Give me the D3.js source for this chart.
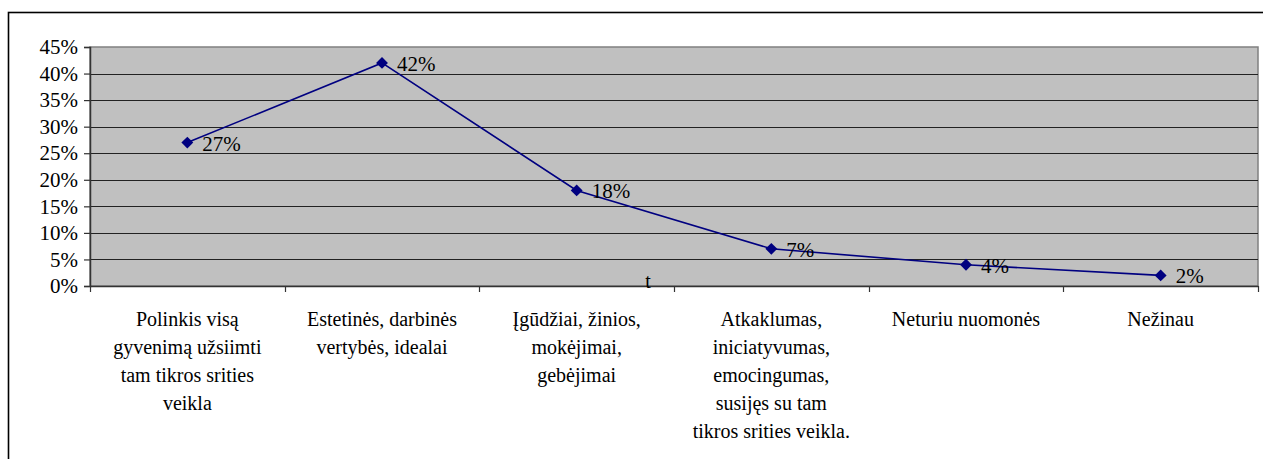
<!DOCTYPE html>
<html><head><meta charset="utf-8">
<script src="https://cdn.jsdelivr.net/npm/d3@7"></script>
<style>body{margin:0;background:#fff}svg{display:block}
svg text{font-family:"Liberation Serif","Times New Roman",Times,serif !important;}</style>
</head><body>
<svg id="c" width="1263" height="459"></svg>
<script>
const categories = [
  "Polinkis visą\ngyvenimą užsiimti\ntam tikros srities\nveikla",
  "Estetinės, darbinės\nvertybės, idealai",
  "Įgūdžiai, žinios,\nmokėjimai,\ngebėjimai",
  "Atkaklumas,\niniciatyvumas,\nemocingumas,\nsusijęs su tam\ntikros srities veikla.",
  "Neturiu nuomonės",
  "Nežinau"
];
const values = [27, 42, 18, 7, 4, 2];
const yTicks = [0, 5, 10, 15, 20, 25, 30, 35, 40, 45];
const strayText = "t";

const svg = d3.select("#c");
const L = 90, R = 1258, T = 47, B = 286;

// outer frame
svg.append("rect").attr("x", 8.5).attr("y", 12.5).attr("width", 1300).attr("height", 500)
  .attr("fill", "none").attr("stroke", "#000").attr("stroke-width", 1.6);

const x = d3.scaleBand().domain(categories).range([L, R]).padding(0);
const y = d3.scaleLinear().domain([0, 45]).range([B, T]);

svg.append("rect").attr("x", L).attr("y", T).attr("width", R - L).attr("height", B - T)
  .attr("fill", "#c0c0c0").attr("stroke", "#808080").attr("stroke-width", 1.5);

// gridlines
svg.append("g").selectAll("line").data(yTicks.filter(d => d > 0 && d < 45)).join("line")
  .attr("x1", L).attr("x2", R).attr("y1", d => Math.round(y(d)) + 0.5).attr("y2", d => Math.round(y(d)) + 0.5)
  .attr("stroke", "#222").attr("stroke-width", 1);

// y axis
const ya = svg.append("g").attr("transform", `translate(${L},0)`)
  .call(d3.axisLeft(y).tickValues(yTicks).tickFormat(d => d + "%").tickSize(6).tickPadding(6));
ya.select(".domain").attr("stroke", "#333").attr("stroke-width", 1.5);
ya.selectAll(".tick line").attr("stroke", "#333").attr("stroke-width", 1.2);
ya.selectAll("text").attr("font-size", 21).attr("fill", "#000");

// x axis
const xa = svg.append("g").attr("transform", `translate(0,${B})`)
  .call(d3.axisBottom(x).tickSize(0).tickFormat(""));
xa.select(".domain").attr("stroke", "#333").attr("stroke-width", 1.5);
const edges = categories.map(c => x(c)).concat([R]);
svg.append("g").selectAll("line").data(edges).join("line")
  .attr("x1", d => Math.round(d) + 0.5).attr("x2", d => Math.round(d) + 0.5)
  .attr("y1", B).attr("y2", B + 6).attr("stroke", "#333").attr("stroke-width", 1.2);

// category labels
categories.forEach(c => {
  const t = svg.append("text").attr("x", x(c) + x.bandwidth() / 2).attr("y", 326)
    .attr("text-anchor", "middle").attr("font-size", 20).attr("fill", "#000");
  c.split("\n").forEach((ln, i) => {
    t.append("tspan").attr("x", x(c) + x.bandwidth() / 2).attr("dy", i === 0 ? 0 : 28).text(ln);
  });
});

// stray text
svg.append("text").attr("x", 648).attr("y", 288).attr("text-anchor", "middle")
  .attr("font-size", 20).text(strayText);

// line
const cx = (d, i) => x(categories[i]) + x.bandwidth() / 2;
svg.append("path").datum(values)
  .attr("d", d3.line().x(cx).y(d => y(d)))
  .attr("fill", "none").attr("stroke", "#000080").attr("stroke-width", 1.6);

svg.append("g").selectAll("path").data(values).join("path")
  .attr("d", d3.symbol().type(d3.symbolDiamond2).size(90))
  .attr("transform", (d, i) => `translate(${cx(d, i)},${y(d)})`)
  .attr("fill", "#000080");

svg.append("g").selectAll("text").data(values).join("text")
  .attr("x", (d, i) => cx(d, i) + 15).attr("y", d => y(d) + 8)
  .attr("font-size", 21).attr("fill", "#000")
  .text(d => d + "%");
</script>
</body></html>
